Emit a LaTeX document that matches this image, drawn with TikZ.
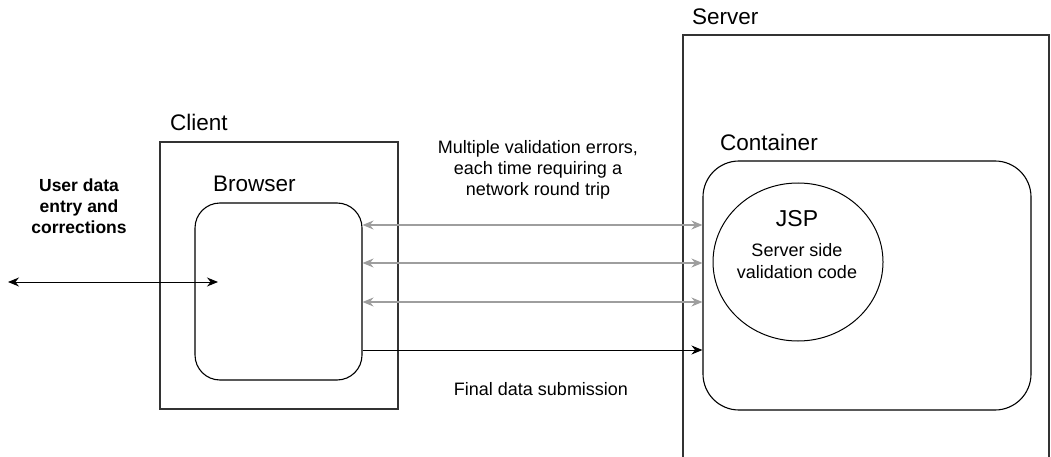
\documentclass[tikz,border=0pt]{standalone}
\usepackage{fontspec}
\setmainfont{Liberation Sans}
\usetikzlibrary{positioning, arrows.meta, shapes.geometric, calc}

\begin{document}
\begin{tikzpicture}[
        x=1pt, y=-1pt,
        frame/.style={rectangle, draw=black!80, line width=1.2pt, inner sep=0pt},
        rbox/.style={rectangle, rounded corners=#1, draw=black, line width=1.1pt, inner sep=0pt},
        title/.style={anchor=base west, inner sep=0pt, font=\fontsize{22.5}{26}\selectfont},
        note/.style={align=center, inner sep=0pt, font=\fontsize{18}{21.5}\selectfont},
        arrow/.style={-{Stealth[length=11pt, width=9pt]}, line width=1pt, draw=black},
        dblarrow/.style={{Stealth[length=11pt, width=9pt]}-{Stealth[length=11pt, width=9pt]}, line width=1pt, draw=black},
        grayarrow/.style={{Stealth[length=11pt, width=9pt]}-{Stealth[length=11pt, width=9pt]}, line width=1.2pt, draw=black!38}
    ]
    \useasboundingbox (0,0) rectangle (1051,457);

    % Boxes
    \node[frame, minimum width=238pt, minimum height=267pt] (client) at (279,275.5) {};
    \node[rbox=25pt, minimum width=167pt, minimum height=177pt] (browser) at (278.5,291.5) {};
    \node[frame, minimum width=366pt, minimum height=440pt] (server) at (866,255) {};
    \node[rbox=36pt, minimum width=328pt, minimum height=249pt] (container) at (867,285.5) {};
    \node[ellipse, draw=black, line width=1pt, minimum width=170pt, minimum height=158pt, inner sep=0pt] (jsp) at (798,262) {};

    % Titles
    \node[title] (clientlbl) at (170,131) {Client};
    \node[title] (browserlbl) at (213,192) {Browser};
    \node[title] (serverlbl) at (692,25) {Server};
    \node[title] (containerlbl) at (720,151) {Container};
    \node[anchor=base, inner sep=0pt, font=\fontsize{23}{26}\selectfont] (jsplbl) at (797,226) {JSP};
    \node[note, anchor=base] (jsptxt) at (797,278) {Server side\\validation code};

    % Notes (base = last line)
    \node[note, anchor=base, font=\bfseries\fontsize{17.5}{20.5}\selectfont] (user) at (79,233) {User data\\entry and\\corrections};
    \node[note, anchor=base] (errors) at (538,196) {Multiple validation errors,\\each time requiring a\\network round trip};
    \node[note, anchor=base] (final) at (541,395) {Final data submission};

    % Rows of the arrows
    \coordinate (r1) at (0,225);
    \coordinate (r2) at (0,263);
    \coordinate (r3) at (0,302);
    \coordinate (r4) at (0,350);
    \coordinate (outside) at (8,282);
    \coordinate (inside) at (218,282);

    % Connectors
    \draw[dblarrow] (outside) -- (inside);
    \draw[grayarrow] (browser.east |- r1) -- (container.west |- r1);
    \draw[grayarrow] (browser.east |- r2) -- (container.west |- r2);
    \draw[grayarrow] (browser.east |- r3) -- (container.west |- r3);
    \draw[arrow] (browser.east |- r4) -- (container.west |- r4);

\end{tikzpicture}
\end{document}
